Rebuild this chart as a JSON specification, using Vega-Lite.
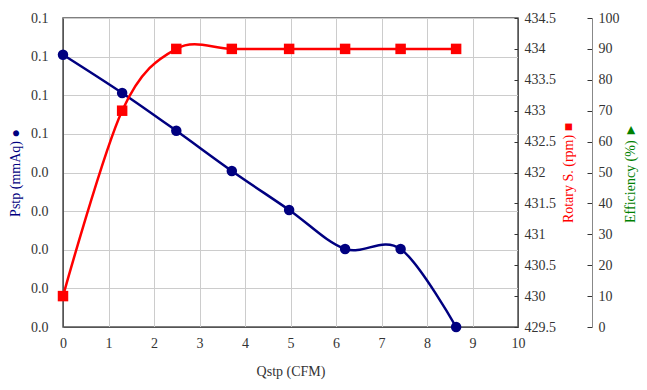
{
  "$schema": "https://vega.github.io/schema/vega-lite/v6.json",
  "width": 455,
  "height": 309,
  "autosize": {"type": "none"},
  "padding": {"left": 63, "top": 18, "right": 129, "bottom": 63},
  "background": "white",
  "config": {
    "font": "Liberation Serif",
    "view": {"stroke": "#555555", "strokeWidth": 1.5},
    "style": {
      "guide-label": {"font": "Liberation Serif", "fontSize": 14, "fill": "#333333"},
      "guide-title": {"font": "Liberation Serif", "fontSize": 14, "fontWeight": "normal"}
    },
    "axis": {
      "labelFont": "Liberation Serif",
      "titleFont": "Liberation Serif",
      "labelFontSize": 14,
      "titleFontSize": 14,
      "titleFontWeight": "normal",
      "labelColor": "#333333",
      "labelFlush": false,
      "gridColor": "#cccccc",
      "gridWidth": 1,
      "domainColor": "#555555",
      "tickColor": "#333333"
    }
  },
  "data": {
    "values": [
      {"q": 0, "pstp": 0.0705, "rpm": 430},
      {"q": 1.3, "pstp": 0.0606, "rpm": 433},
      {"q": 2.49, "pstp": 0.0508, "rpm": 434},
      {"q": 3.71, "pstp": 0.0404, "rpm": 434},
      {"q": 4.97, "pstp": 0.0303, "rpm": 434},
      {"q": 6.2, "pstp": 0.0202, "rpm": 434},
      {"q": 7.42, "pstp": 0.0202, "rpm": 434},
      {"q": 8.64, "pstp": 0, "rpm": 434}
    ]
  },
  "encoding": {
    "x": {
      "field": "q",
      "type": "quantitative",
      "scale": {"domain": [0, 10], "nice": false, "zero": false},
      "axis": {
        "title": "Qstp (CFM)",
        "labelFont": "Liberation Serif",
        "titleFont": "Liberation Serif",
        "labelFlush": false,
        "values": [0, 1, 2, 3, 4, 5, 6, 7, 8, 9, 10],
        "grid": true,
        "ticks": false,
        "labelPadding": 9,
        "titlePadding": 14,
        "titleColor": "#333333"
      }
    }
  },
  "layer": [
    {
      "layer": [
        {"mark": {"type": "line", "color": "#000080", "strokeWidth": 2.5, "interpolate": "cardinal"}},
        {"mark": {"type": "point", "shape": "circle", "filled": true, "color": "#000080", "size": 110, "opacity": 1}}
      ],
      "encoding": {
        "y": {
          "field": "pstp",
          "type": "quantitative",
          "scale": {"domain": [0, 0.08], "nice": false},
          "axis": {
            "orient": "left",
            "title": "Pstp (mmAq)  ●",
            "labelFont": "Liberation Serif",
            "titleFont": "Liberation Serif",
            "labelFlush": false,
            "titleColor": "#000080",
            "values": [0, 0.01, 0.02, 0.03, 0.04, 0.05, 0.06, 0.07, 0.08],
            "format": ".1f",
            "grid": true,
            "ticks": false,
            "labelPadding": 15,
            "titlePadding": 8
          }
        }
      }
    },
    {
      "layer": [
        {"mark": {"type": "line", "color": "#ff0000", "strokeWidth": 2.5, "interpolate": "cardinal"}},
        {"mark": {"type": "point", "shape": "square", "filled": true, "color": "#ff0000", "size": 110, "opacity": 1}}
      ],
      "encoding": {
        "y": {
          "field": "rpm",
          "type": "quantitative",
          "scale": {"domain": [429.5, 434.5], "nice": false, "zero": false},
          "axis": {
            "orient": "right",
            "title": "Rotary S. (rpm)  ■",
            "labelFont": "Liberation Serif",
            "titleFont": "Liberation Serif",
            "labelFlush": false,
            "titleColor": "#ff0000",
            "titleAngle": 270,
            "titleBaseline": "top",
            "format": "~g",
            "values": [429.5, 430, 430.5, 431, 431.5, 432, 432.5, 433, 433.5, 434, 434.5],
            "grid": false,
            "tickSize": -4,
            "labelPadding": 10,
            "titlePadding": 6
          }
        }
      }
    },
    {
      "mark": {"type": "point", "opacity": 0},
      "encoding": {
        "y": {
          "field": "eff",
          "type": "quantitative",
          "scale": {"domain": [0, 100], "nice": false},
          "axis": {
            "orient": "right",
            "offset": 74,
            "title": "Efficiency (%)  ►",
            "labelFont": "Liberation Serif",
            "titleFont": "Liberation Serif",
            "labelFlush": false,
            "titleColor": "#008000",
            "titleAngle": 270,
            "titleBaseline": "top",
            "values": [0, 10, 20, 30, 40, 50, 60, 70, 80, 90, 100],
            "grid": false,
            "domain": true,
            "domainColor": "#888888",
            "tickSize": -5,
            "labelPadding": 11,
            "titlePadding": 4
          }
        }
      }
    }
  ],
  "resolve": {"scale": {"y": "independent"}, "axis": {"y": "independent"}}
}
